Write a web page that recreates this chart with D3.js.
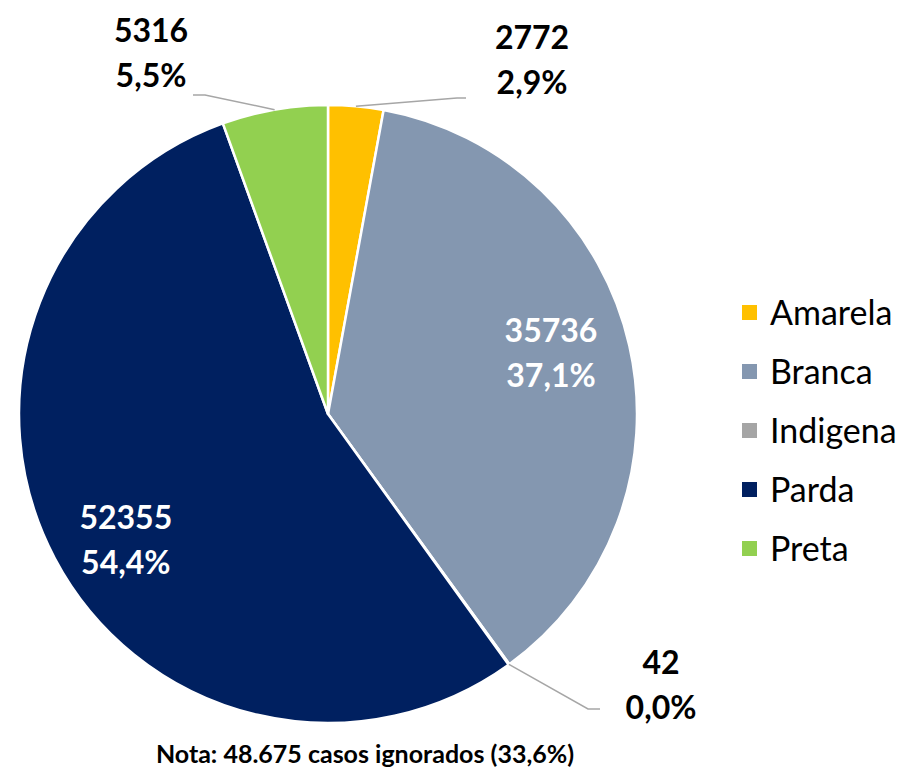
<!DOCTYPE html>
<html>
<head>
<meta charset="utf-8">
<script src="https://cdn.jsdelivr.net/npm/d3@7"></script>
<style>
  body { margin: 0; background: #fff; }
  text { font-family: Lato, "Open Sans", sans-serif; }
</style>
</head>
<body>
<div id="chart"></div>
<script>
var categories = ['Amarela', 'Branca', 'Indigena', 'Parda', 'Preta'];
var values = [2772, 35736, 42, 52355, 5316];
var percents = ['2,9%', '37,1%', '0,0%', '54,4%', '5,5%'];
var colors = ['#FFC000', '#8497B0', '#A5A5A5', '#002060', '#92D050'];
var note = 'Nota: 48.675 casos ignorados (33,6%)';

dim = {
    'width': 908,
    'height': 773,
    'cx': 328,
    'cy': 414,
    'r': 309
};

// which labels sit inside the slice, and where the outside ones go
var inside = {
    'Branca': { k: 0.74, dy: -9 },
    'Parda':  { k: 0.74, dy: 20 }
};
var outside = {
    'Amarela':  { elbow: [457, 98], end: [466, 98], text: [532, 49] },
    'Indigena': { elbow: [588, 709], end: [600, 709], text: [661, 674] },
    'Preta':    { elbow: [205, 95], end: [193, 95], text: [151, 42] }
};

var data = categories.map((c, i) => ({ cat: c, value: values[i], pct: percents[i], color: colors[i] }));

var svg = d3.select('#chart').append('svg')
    .attr('width', dim.width)
    .attr('height', dim.height);

var pie = d3.pie().sort(null).value(d => d.value);
var arcs = pie(data);

var arc = d3.arc().innerRadius(0).outerRadius(dim.r);

var g = svg.append('g').attr('transform', `translate(${dim.cx},${dim.cy})`);

g.selectAll('path.slice')
    .data(arcs)
    .enter().append('path')
    .attr('class', 'slice')
    .attr('d', arc)
    .attr('fill', d => d.data.color)
    .attr('stroke', '#fff')
    .attr('stroke-width', 2.5)
    .attr('stroke-linejoin', 'round');

// inside labels
arcs.filter(d => inside[d.data.cat]).forEach(function(d) {
    var o = inside[d.data.cat];
    var c = d3.arc().innerRadius(dim.r * o.k).outerRadius(dim.r * o.k).centroid(d);
    var y = c[1] + o.dy;
    var t = g.append('text')
        .attr('text-anchor', 'middle')
        .attr('font-size', 32)
        .attr('font-weight', 'bold')
        .attr('fill', '#fff');
    t.append('tspan').attr('x', c[0]).attr('y', y - 12).text(d.data.value);
    t.append('tspan').attr('x', c[0]).attr('y', y + 33).text(d.data.pct);
});

// outside labels with leader lines
arcs.filter(d => outside[d.data.cat]).forEach(function(d) {
    var o = outside[d.data.cat];
    var mid = (d.startAngle + d.endAngle) / 2;
    var p0 = [dim.cx + dim.r * Math.sin(mid), dim.cy - dim.r * Math.cos(mid)];
    svg.append('path')
        .attr('d', d3.line()([p0, o.elbow, o.end]))
        .attr('fill', 'none')
        .attr('stroke', '#A6A6A6')
        .attr('stroke-width', 1.5);
    var t = svg.append('text')
        .attr('text-anchor', 'middle')
        .attr('font-size', 32)
        .attr('font-weight', 'bold')
        .attr('fill', '#000');
    t.append('tspan').attr('x', o.text[0]).attr('y', o.text[1]).text(d.data.value);
    t.append('tspan').attr('x', o.text[0]).attr('y', o.text[1] + 45).text(d.data.pct);
});

// legend
var legendY = d3.scalePoint().domain(categories).range([313, 549]);
var legend = svg.append('g');
var item = legend.selectAll('g')
    .data(data)
    .enter().append('g')
    .attr('transform', d => `translate(742,${legendY(d.cat)})`);
item.append('rect')
    .attr('x', 0).attr('y', -8)
    .attr('width', 15).attr('height', 15)
    .attr('fill', d => d.color);
item.append('text')
    .attr('x', 28).attr('y', 12)
    .attr('font-size', 34)
    .attr('fill', '#000')
    .text(d => d.cat);

svg.append('text')
    .attr('x', 365).attr('y', 763)
    .attr('text-anchor', 'middle')
    .attr('font-size', 25)
    .attr('font-weight', 'bold')
    .text(note);
</script>
</body>
</html>
